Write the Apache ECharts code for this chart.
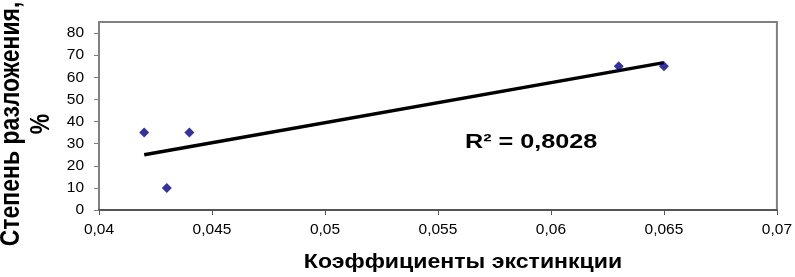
<!DOCTYPE html>
<html><head><meta charset="utf-8">
<script src="https://cdn.jsdelivr.net/npm/echarts@6/dist/echarts.min.js"></script>
<style>html,body{margin:0;padding:0;background:#fff}#c{width:795px;height:277px}</style>
</head><body><div id="c"></div>
<script>
const xValues = [0.042, 0.043, 0.044, 0.063, 0.065];
const yValues = [35, 10, 35, 65, 65];
const yTicks = [0, 10, 20, 30, 40, 50, 60, 70, 80];
const xTitle = 'Коэффициенты экстинкции';
const yTitleLines = ['Степень разложения,', '%'];
const r2Label = 'R² = 0,8028';

// linear trendline (least squares) from the data
const n = xValues.length;
const mx = xValues.reduce((a, b) => a + b, 0) / n;
const my = yValues.reduce((a, b) => a + b, 0) / n;
let sxy = 0, sxx = 0;
for (let i = 0; i < n; i++) { sxy += (xValues[i] - mx) * (yValues[i] - my); sxx += (xValues[i] - mx) ** 2; }
const slope = sxy / sxx, icpt = my - slope * mx;
const xMin = Math.min(...xValues), xMax = Math.max(...xValues);
const trend = [[xMin, icpt + slope * xMin], [xMax, icpt + slope * xMax]];

const FONT = "'Liberation Sans', Arial, sans-serif";
const chart = echarts.init(document.getElementById('c'), null, {renderer: 'canvas'});
chart.setOption({
  animation: false,
  grid: {left: 99, right: 16, top: 22, bottom: 67, show: true, borderColor: '#808080', borderWidth: 2, backgroundColor: '#fff'},
  xAxis: {
    type: 'value', min: 0.04, max: 0.07, interval: 0.005,
    axisLine: {show: true, onZero: false, lineStyle: {color: '#555', width: 2}},
    axisTick: {show: true, length: 5, lineStyle: {color: '#555'}},
    splitLine: {show: false},
    axisLabel: {color: '#000', fontFamily: FONT, fontSize: 15.5, margin: 12,
      formatter: v => String(+v.toFixed(4)).replace('.', ',')}
  },
  yAxis: {
    type: 'value', min: 0, max: 85, interval: 10,
    axisLine: {show: true, lineStyle: {color: '#808080', width: 2}},
    axisTick: {show: true, length: 5, lineStyle: {color: '#808080'}, customValues: yTicks},
    splitLine: {show: false},
    axisLabel: {color: '#000', fontFamily: FONT, fontSize: 15.5, margin: 15, customValues: yTicks}
  },
  series: [
    {type: 'line', data: trend, symbol: 'none', lineStyle: {color: '#000', width: 3.5}, z: 2},
    {type: 'scatter', data: xValues.map((x, i) => [x, yValues[i]]), symbol: 'diamond', symbolSize: 10,
      itemStyle: {color: '#000080'}, z: 3}
  ],
  graphic: [
    {type: 'text', left: 465, top: 132, scaleX: 1.2, style: {text: r2Label, font: 'bold 21px ' + FONT, fill: '#000'}},
    {type: 'text', x: 463, y: 262, scaleX: 1.1, style: {text: xTitle, font: 'bold 21px ' + FONT, fill: '#000', align: 'center', verticalAlign: 'middle'}},
    {type: 'text', x: 26, y: 124, rotation: Math.PI / 2, scaleY: 1.2,
      style: {text: yTitleLines.join('\n'), font: 'bold 23px ' + FONT, fill: '#000', align: 'center', verticalAlign: 'middle', lineHeight: 25}}
  ]
});
</script></body></html>
